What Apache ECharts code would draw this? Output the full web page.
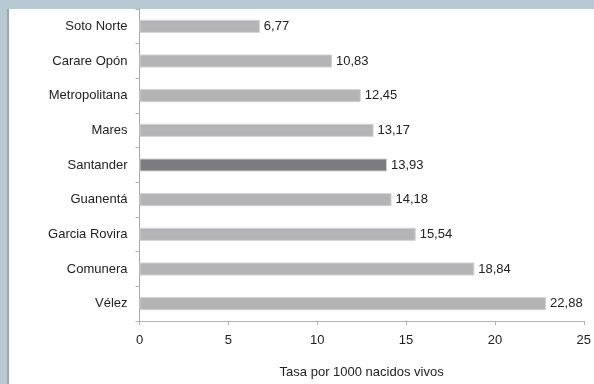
<!DOCTYPE html>
<html>
<head>
<meta charset="utf-8">
<script src="https://cdn.jsdelivr.net/npm/echarts@6/dist/echarts.min.js"></script>
<style>
  html, body { margin: 0; padding: 0; background: #b9c9d1; }
  #chart { width: 594px; height: 384px; }
</style>
</head>
<body>
<div id="chart"></div>
<script>
// Tasa por 1000 nacidos vivos, por provincia (de arriba hacia abajo)
const provincias = ['Soto Norte', 'Carare Opón', 'Metropolitana', 'Mares', 'Santander',
                    'Guanentá', 'Garcia Rovira', 'Comunera', 'Vélez'];
const tasas = [6.77, 10.83, 12.45, 13.17, 13.93, 14.18, 15.54, 18.84, 22.88];
const destacado = 'Santander';
const ejeX = { min: 0, max: 25, interval: 5 };
const tituloEjeX = 'Tasa por 1000 nacidos vivos';

const FONT = '"Liberation Sans", Arial, sans-serif';
const SIZE = 13;
const fmt = v => v.toFixed(2).replace('.', ',');

const chart = echarts.init(document.getElementById('chart'), null, { renderer: 'canvas' });

chart.setOption({
  backgroundColor: '#b9c9d1',
  animation: false,
  graphic: [
    { type: 'rect', z: -10, shape: { x: 9, y: 9, width: 585, height: 375 }, style: { fill: '#ffffff' } },
    { type: 'rect', z: -10, shape: { x: 7, y: 9, width: 2, height: 375 }, style: { fill: '#9ea7ac' } }
  ],
  grid: { left: 139.5, right: 7, top: 9, bottom: 60, containLabel: false },
  xAxis: {
    type: 'value',
    min: ejeX.min, max: ejeX.max, interval: ejeX.interval,
    name: tituloEjeX,
    nameLocation: 'middle',
    nameGap: 45,
    nameTextStyle: { fontFamily: FONT, fontSize: SIZE, color: '#222' },
    axisLine: { show: true, lineStyle: { color: '#b4b4b4', width: 1 } },
    axisTick: { show: true, inside: false, length: 4, lineStyle: { color: '#b4b4b4' } },
    axisLabel: { fontFamily: FONT, fontSize: SIZE, color: '#222', margin: 13 },
    splitLine: { show: false }
  },
  yAxis: {
    type: 'category',
    data: provincias,
    inverse: true,
    axisLine: { show: true, lineStyle: { color: '#a8a8a8', width: 1 } },
    axisTick: { show: true, length: 4, lineStyle: { color: '#b4b4b4' } },
    axisLabel: { fontFamily: FONT, fontSize: SIZE, color: '#222', margin: 12 }
  },
  series: [{
    type: 'bar',
    barWidth: 13,
    data: tasas.map((v, i) => ({
      value: v,
      itemStyle: { color: provincias[i] === destacado ? '#7c7c80' : '#b4b4b6' }
    })),
    itemStyle: { borderColor: '#cfcfd1', borderWidth: 1 },
    label: {
      show: true, position: 'right', distance: 4,
      fontFamily: FONT, fontSize: SIZE, color: '#222',
      formatter: p => fmt(p.value)
    }
  }]
});
</script>
</body>
</html>
